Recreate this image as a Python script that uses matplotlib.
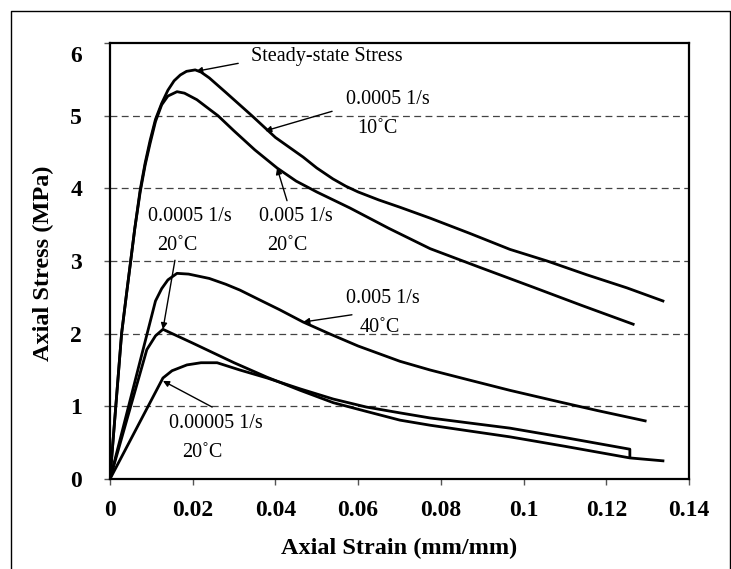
import numpy as np
import matplotlib
matplotlib.use("Agg")
import matplotlib.pyplot as plt
from matplotlib.lines import Line2D
from matplotlib.transforms import ScaledTranslation

# strain / stress readings per test
# 0.0005 1/s, 10 C
strain_a = [0, 0.0014, 0.0028, 0.0040, 0.0050, 0.0060, 0.0073, 0.0085, 0.0097, 0.011, 0.0125,
            0.014, 0.0155, 0.017, 0.0185, 0.0206, 0.022, 0.024, 0.028, 0.0343, 0.040, 0.0467,
            0.050, 0.0539, 0.057, 0.060, 0.065, 0.0701, 0.0774, 0.087, 0.0967, 0.1057,
            0.1153, 0.125, 0.1337]
stress_a = [0, 1.0, 2.0, 2.55, 3.0, 3.45, 3.98, 4.35, 4.66, 4.95, 5.17,
            5.35, 5.48, 5.56, 5.61, 5.63, 5.60, 5.52, 5.32, 5.0, 4.70, 4.43,
            4.28, 4.13, 4.03, 3.95, 3.84, 3.74, 3.59, 3.38, 3.16, 3.0,
            2.81, 2.63, 2.45]
# 0.005 1/s, 20 C
strain_b = [0, 0.0014, 0.0028, 0.0040, 0.0050, 0.0060, 0.0073, 0.0085, 0.0097, 0.011, 0.0125,
            0.014, 0.0162, 0.018, 0.021, 0.024, 0.0261, 0.030, 0.035, 0.0404, 0.045, 0.050,
            0.058, 0.0674, 0.0774, 0.090, 0.1023, 0.114, 0.1265]
stress_b = [0, 1.0, 2.0, 2.55, 3.0, 3.45, 3.95, 4.32, 4.62, 4.92, 5.15,
            5.27, 5.33, 5.31, 5.22, 5.09, 5.0, 4.79, 4.53, 4.28, 4.10, 3.95,
            3.73, 3.45, 3.17, 2.9, 2.64, 2.39, 2.13]
# 0.005 1/s, 40 C
strain_c = [0, 0.011, 0.0125, 0.014, 0.0162, 0.019, 0.024, 0.028, 0.0314, 0.036, 0.041,
            0.0467, 0.053, 0.060, 0.0701, 0.0774, 0.087, 0.0967, 0.108, 0.118, 0.1294]
stress_c = [0, 2.45, 2.62, 2.74, 2.83, 2.82, 2.76, 2.68, 2.6, 2.47, 2.33,
            2.16, 2.0, 1.83, 1.62, 1.50, 1.36, 1.22, 1.07, 0.94, 0.80]
# 0.0005 1/s, 20 C
strain_d = [0, 0.0089, 0.0110, 0.0128, 0.02, 0.03, 0.038, 0.046, 0.054, 0.062, 0.0701,
            0.0774, 0.087, 0.0967, 0.11, 0.1257, 0.1337]
stress_d = [0, 1.78, 1.97, 2.06, 1.87, 1.6, 1.40, 1.22, 1.05, 0.93, 0.81,
            0.74, 0.66, 0.58, 0.45, 0.29, 0.25]
# 0.00005 1/s, 20 C
strain_e = [0, 0.0128, 0.015, 0.0186, 0.022, 0.0259, 0.0314, 0.038, 0.046, 0.054, 0.062,
            0.0701, 0.0774, 0.087, 0.0967, 0.11, 0.1257, 0.1257]
stress_e = [0, 1.39, 1.49, 1.57, 1.60, 1.60, 1.50, 1.39, 1.24, 1.10, 0.99,
            0.91, 0.84, 0.77, 0.70, 0.57, 0.41, 0.30]

x_ticks = [0, 0.02, 0.04, 0.06, 0.08, 0.1, 0.12, 0.14]
x_tick_labels = ["0", "0.02", "0.04", "0.06", "0.08", "0.1", "0.12", "0.14"]
y_ticks = [0, 1, 2, 3, 4, 5, 6]

W, H = 731, 569
fig = plt.figure(figsize=(W / 100, H / 100), dpi=100)
ax = fig.add_axes([110 / W, 1 - 479 / H, 579 / W, 436 / H])

for y in y_ticks[1:-1]:
    ax.axhline(y, color="#444444", lw=0.9, dashes=(5.5, 3.5), zorder=1)

for sx, sy in [(strain_a, stress_a), (strain_b, stress_b), (strain_c, stress_c),
               (strain_d, stress_d), (strain_e, stress_e)]:
    ax.plot(sx, sy, color="black", lw=2.0, solid_joinstyle="round", zorder=3)

ax.set_xlim(0, 0.14)
ax.set_ylim(0, 6)
ax.set_xticks(x_ticks)
ax.set_xticklabels(x_tick_labels)
ax.set_yticks(y_ticks)
ax.tick_params(direction="out", length=4, width=1, color="#555555")
ax.tick_params(axis="x", pad=11)
ax.tick_params(axis="y", pad=16)
for lab in ax.get_xticklabels() + ax.get_yticklabels():
    lab.set_fontfamily("Liberation Serif")
    lab.set_fontweight("bold")
    lab.set_fontsize(17)
top = ax.get_yticklabels()[-1]
top.set_transform(top.get_transform() + ScaledTranslation(0, -8 / 72, fig.dpi_scale_trans))

for s in ax.spines.values():
    s.set_linewidth(1.6)

ax.set_xlabel("Axial Strain (mm/mm)", fontfamily="Liberation Serif", fontweight="bold", fontsize=17.5)
ax.set_ylabel("Axial Stress (MPa)", fontfamily="Liberation Serif", fontweight="bold", fontsize=17.5)
ax.xaxis.label.set_va("center")
ax.yaxis.label.set_va("center")
ax.xaxis.set_label_coords(0.5, (479 - 548) / 436)
ax.yaxis.set_label_coords((43 - 110) / 579, (479 - 263) / 436)

font = dict(fontfamily=["Liberation Serif", "DejaVu Serif"], fontsize=14.5, ha="center", va="center")
arrow = dict(arrowstyle="-|>", color="black", lw=1.0, mutation_scale=9, shrinkA=0, shrinkB=0)

ax.text(0.0525, 5.82, "Steady-state Stress", **font)
ax.annotate("", xy=(0.0208, 5.61), xytext=(0.0310, 5.72), arrowprops=arrow)

ax.text(0.0672, 5.22, "0.0005 1/s", **font)
ax.text(0.0646, 4.83, "10˚C", **font)
ax.annotate("", xy=(0.0375, 4.79), xytext=(0.0537, 5.06), arrowprops=arrow)

ax.text(0.0450, 3.61, "0.005 1/s", **font)
ax.text(0.0428, 3.22, "20˚C", **font)
ax.annotate("", xy=(0.0404, 4.28), xytext=(0.0428, 3.83), arrowprops=arrow)

ax.text(0.0193, 3.61, "0.0005 1/s", **font)
ax.text(0.0162, 3.22, "20˚C", **font)
ax.annotate("", xy=(0.0128, 2.06), xytext=(0.0157, 3.01), arrowprops=arrow)

ax.text(0.0660, 2.48, "0.005 1/s", **font)
ax.text(0.0653, 2.09, "40˚C", **font)
ax.annotate("", xy=(0.0467, 2.16), xytext=(0.0585, 2.26), arrowprops=arrow)

ax.text(0.0256, 0.77, "0.00005 1/s", **font)
ax.text(0.0222, 0.37, "20˚C", **font)
ax.annotate("", xy=(0.0128, 1.35), xytext=(0.0247, 0.99), arrowprops=arrow)

# outer frame around the figure
fx = [11 / W, 11 / W, 730 / W, 730 / W]
fy = [0, 1 - 11 / H, 1 - 11 / H, 0]
fig.add_artist(Line2D(fx, fy, transform=fig.transFigure, color="black", lw=1.0))

fig.savefig("out.png", dpi=100)
